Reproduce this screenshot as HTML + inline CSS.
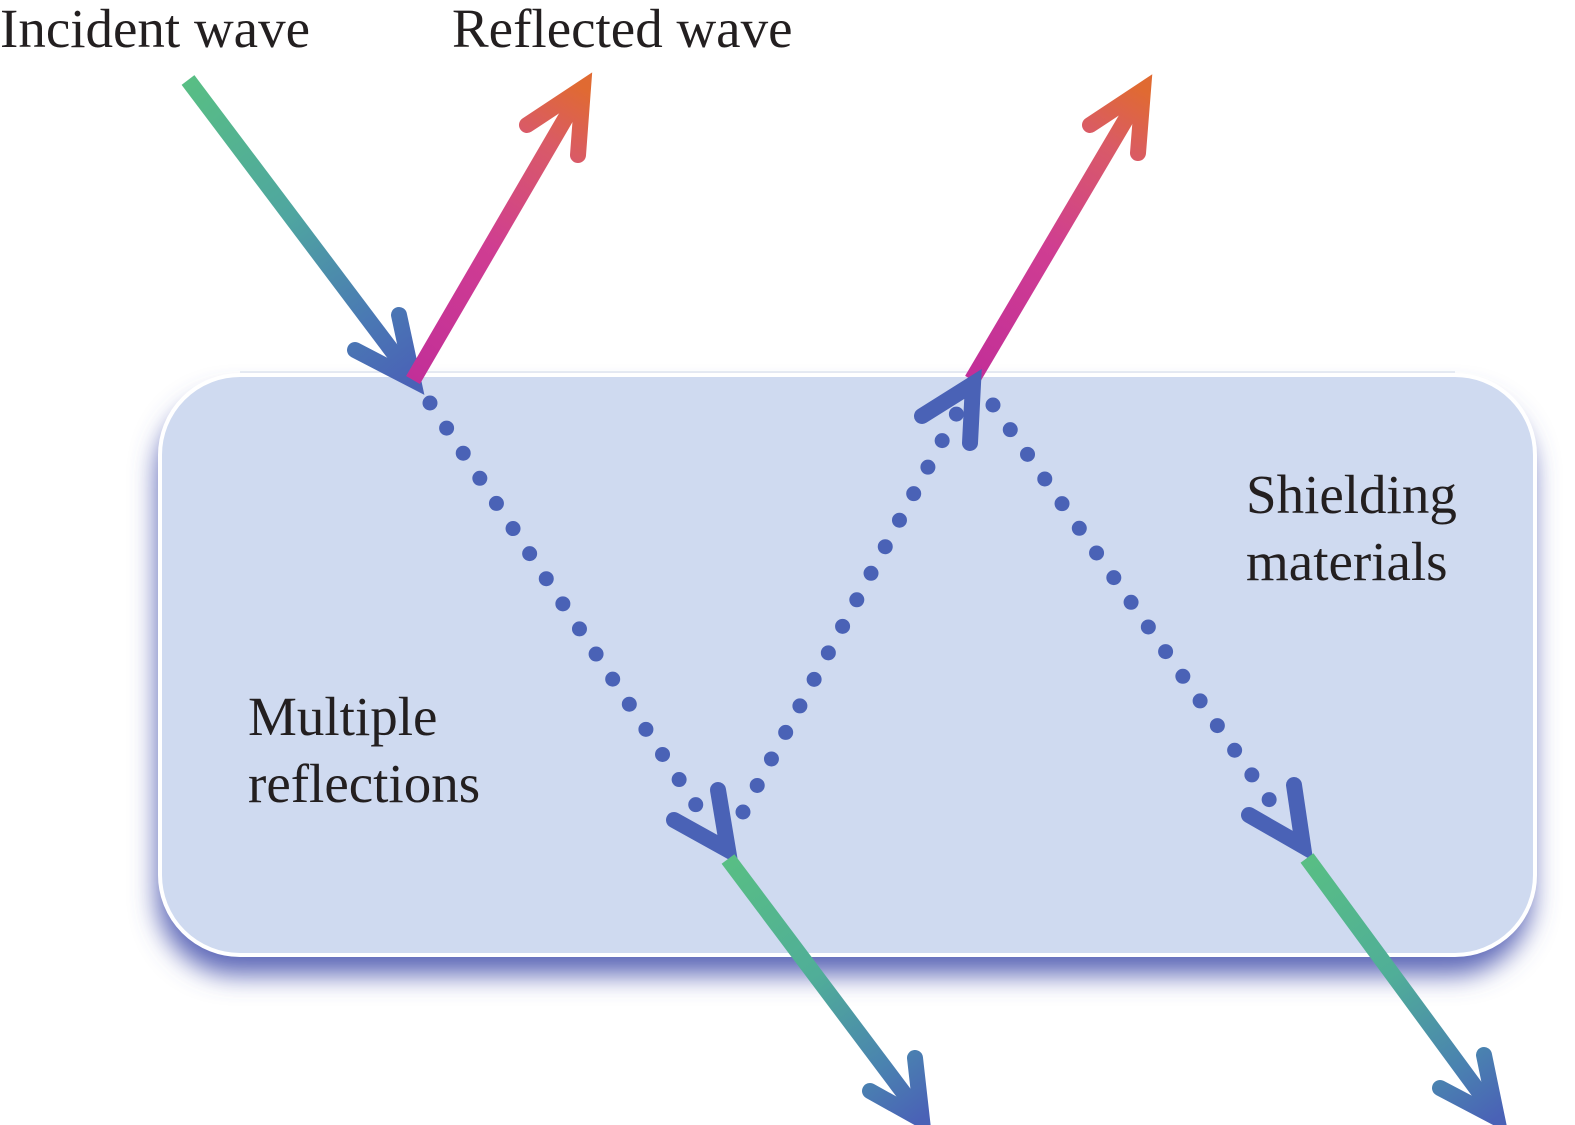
<!DOCTYPE html>
<html>
<head>
<meta charset="utf-8">
<style>
  html,body{margin:0;padding:0;background:#fff;}
  body{width:1575px;height:1125px;overflow:hidden;position:relative;}
  svg{position:absolute;left:0;top:0;}
  .t{font-family:"Liberation Serif","Times New Roman",serif;font-size:55px;fill:#231f20;}
</style>
</head>
<body>
<svg width="1575" height="1125" viewBox="0 0 1575 1125" xmlns="http://www.w3.org/2000/svg">
  <defs>
    <filter id="sh" x="-10%" y="-10%" width="120%" height="135%">
      <feGaussianBlur in="SourceAlpha" stdDeviation="13" result="b"/>
      <feOffset dx="-3" dy="20" result="o"/>
      <feFlood flood-color="#5560b4" flood-opacity="0.95"/>
      <feComposite in2="o" operator="in" result="s"/>
      <feMerge><feMergeNode in="s"/><feMergeNode in="SourceGraphic"/></feMerge>
    </filter>
    <linearGradient id="gInc" gradientUnits="userSpaceOnUse" x1="188" y1="80" x2="413" y2="380">
      <stop offset="0" stop-color="#58be84"/>
      <stop offset="0.45" stop-color="#4fa6a0"/>
      <stop offset="0.8" stop-color="#4a78b4"/>
      <stop offset="1" stop-color="#4a62b6"/>
    </linearGradient>
    <linearGradient id="gRef1" gradientUnits="userSpaceOnUse" x1="413" y1="380" x2="583" y2="88">
      <stop offset="0" stop-color="#c22f98"/>
      <stop offset="0.45" stop-color="#cf3d92"/>
      <stop offset="0.8" stop-color="#d95a68"/>
      <stop offset="1" stop-color="#e06a32"/>
    </linearGradient>
    <linearGradient id="gRef2" gradientUnits="userSpaceOnUse" x1="972" y1="380" x2="1143" y2="90">
      <stop offset="0" stop-color="#c22f98"/>
      <stop offset="0.45" stop-color="#cf3d92"/>
      <stop offset="0.8" stop-color="#d95a68"/>
      <stop offset="1" stop-color="#e06a32"/>
    </linearGradient>
    <linearGradient id="gTr1" gradientUnits="userSpaceOnUse" x1="728" y1="858" x2="922" y2="1118">
      <stop offset="0" stop-color="#58be84"/>
      <stop offset="0.45" stop-color="#50ae98"/>
      <stop offset="0.8" stop-color="#4a82b0"/>
      <stop offset="1" stop-color="#4a62b6"/>
    </linearGradient>
    <linearGradient id="gTr2" gradientUnits="userSpaceOnUse" x1="1307" y1="858" x2="1497" y2="1118">
      <stop offset="0" stop-color="#58be84"/>
      <stop offset="0.45" stop-color="#50ae98"/>
      <stop offset="0.8" stop-color="#4a82b0"/>
      <stop offset="1" stop-color="#4a62b6"/>
    </linearGradient>
  </defs>

  <!-- Shielding box -->
  <rect x="160" y="375" width="1375" height="580" rx="80" ry="80" fill="#cfdaf0" filter="url(#sh)"/>
  <rect x="160" y="375" width="1375" height="580" rx="80" ry="80" fill="#cfdaf0" stroke="#ffffff" stroke-width="4"/>
  <line x1="240" y1="372" x2="1455" y2="372" stroke="#dde3ef" stroke-width="1.5"/>

  <!-- Labels -->
  <text class="t" x="0" y="47">Incident wave</text>
  <text class="t" x="452" y="47">Reflected wave</text>
  <text class="t" x="1246" y="513">Shielding</text>
  <text class="t" x="1246" y="580">materials</text>
  <text class="t" x="248" y="735">Multiple</text>
  <text class="t" x="248" y="802">reflections</text>

  <!-- Dotted paths -->
  <g fill="none" stroke="#4a62b6" stroke-width="15" stroke-linecap="round" stroke-dasharray="0 30.1">
    <line x1="430" y1="403" x2="696.5" y2="805.8"/>
    <line x1="743" y1="812" x2="957.5" y2="412"/>
    <line x1="993" y1="405" x2="1270.5" y2="801.5"/>
  </g>

  <g fill="none" stroke-width="16">
    <!-- Incident wave -->
    <line x1="188" y1="80" x2="411" y2="376" stroke="url(#gInc)"/>
    <polyline points="399,315 413,380 355,350" stroke="url(#gInc)" stroke-linecap="round" stroke-linejoin="miter" stroke-miterlimit="10"/>

    <!-- Reflected 1 -->
    <line x1="413" y1="380" x2="579" y2="95" stroke="url(#gRef1)"/>
    <polyline points="527,125 583,88 578,155" stroke="url(#gRef1)" stroke-linecap="round" stroke-linejoin="miter" stroke-miterlimit="10"/>

    <!-- Reflected 2 -->
    <line x1="972" y1="380" x2="1139" y2="97" stroke="url(#gRef2)"/>
    <polyline points="1090,125 1143,90 1138,153" stroke="url(#gRef2)" stroke-linecap="round" stroke-linejoin="miter" stroke-miterlimit="10"/>

    <!-- Dotted arrowheads -->
    <polyline points="718,790 728,850 674,820" stroke="#4a62b6" stroke-linecap="round" stroke-linejoin="miter" stroke-miterlimit="10"/>
    <polyline points="922,416 973,384 970,443" stroke="#4a62b6" stroke-linecap="round" stroke-linejoin="miter" stroke-miterlimit="10"/>
    <polyline points="1294,785 1303,846 1249,815" stroke="#4a62b6" stroke-linecap="round" stroke-linejoin="miter" stroke-miterlimit="10"/>

    <!-- Transmitted 1 -->
    <line x1="728" y1="859" x2="918" y2="1112" stroke="url(#gTr1)"/>
    <polyline points="915,1058 922,1120 870,1091" stroke="url(#gTr1)" stroke-linecap="round" stroke-linejoin="miter" stroke-miterlimit="10"/>

    <!-- Transmitted 2 -->
    <line x1="1307" y1="858" x2="1493" y2="1111" stroke="url(#gTr2)"/>
    <polyline points="1484,1055 1497,1118 1440,1088" stroke="url(#gTr2)" stroke-linecap="round" stroke-linejoin="miter" stroke-miterlimit="10"/>
  </g>
</svg>
</body>
</html>
